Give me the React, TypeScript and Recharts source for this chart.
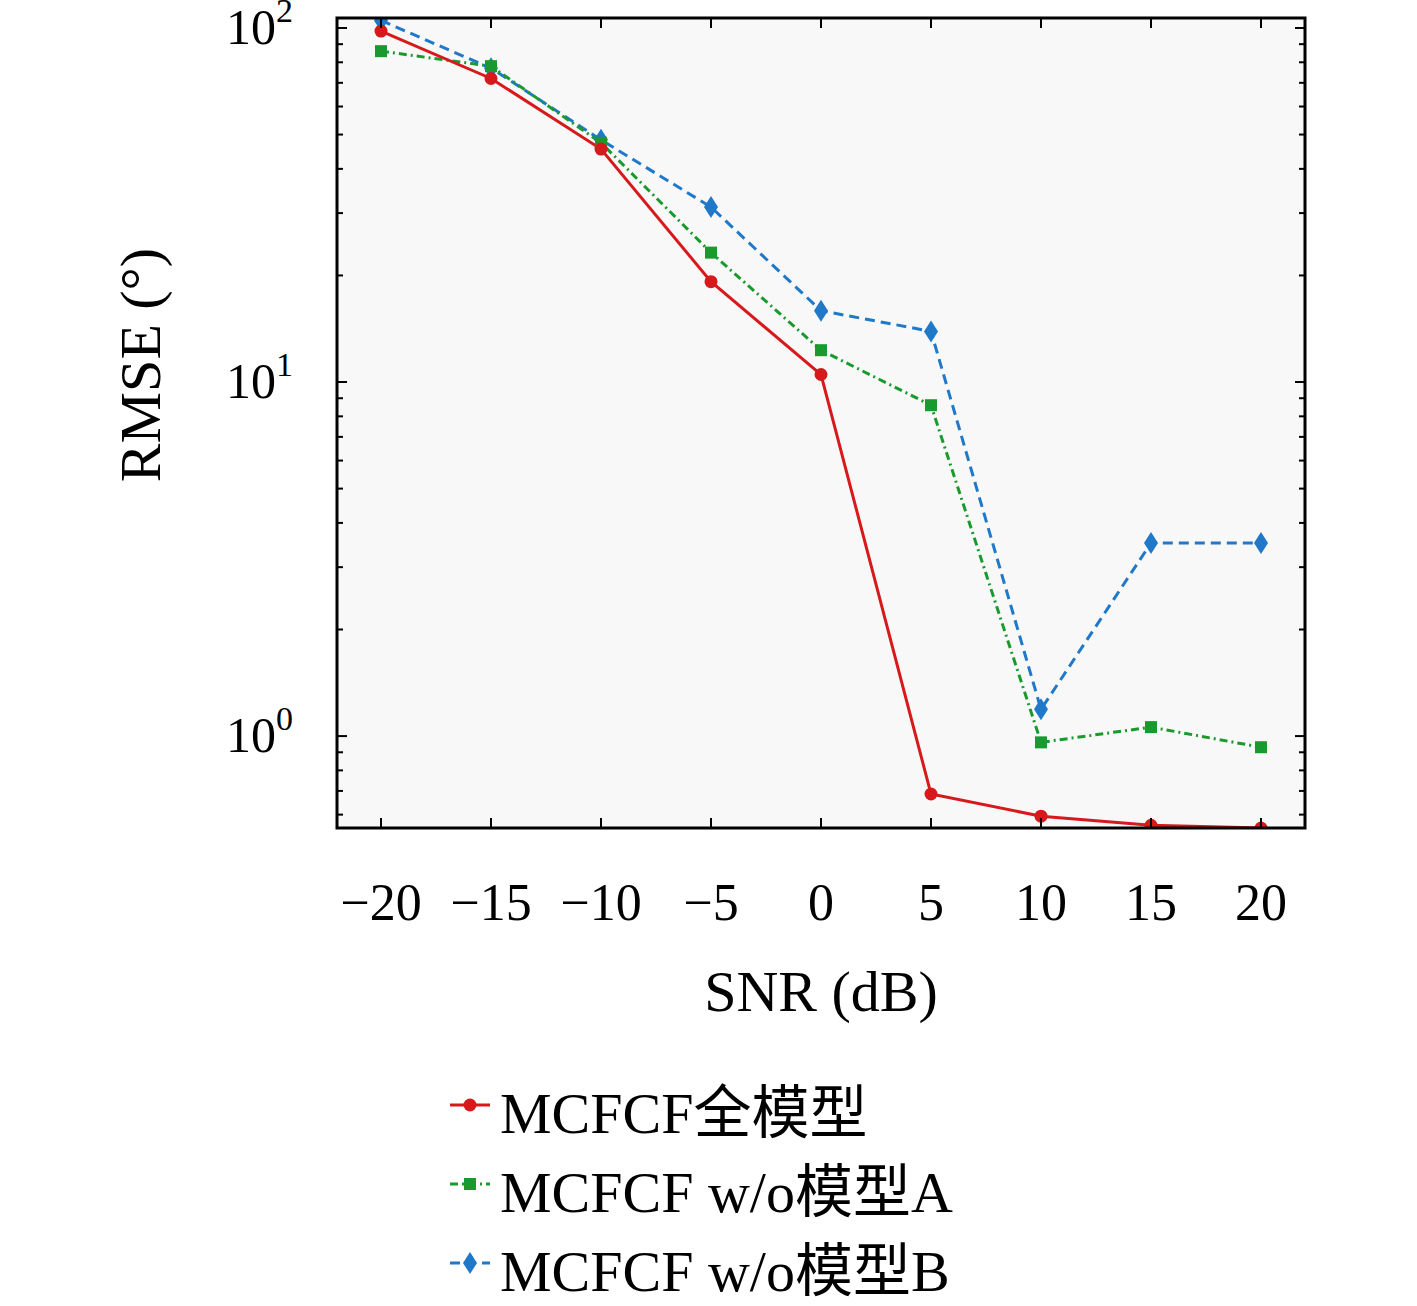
import React from "react";
import { LineChart, Line, XAxis, YAxis, CartesianGrid } from "recharts";

const snr = [-20, -15, -10, -5, 0, 5, 10, 15, 20];
const fullModel = [98, 72, 45.5, 19.2, 10.5, 0.686, 0.594, 0.56, 0.55];
const woA = [86, 78, 47.4, 23.2, 12.3, 8.6, 0.96, 1.06, 0.93];
const woB = [105, 77, 48.3, 31.2, 15.9, 13.9, 1.19, 3.51, 3.51];
const xTicks = [-20, -15, -10, -5, 0, 5, 10, 15, 20];
const yTicks = [0.6, 0.7, 0.8, 0.9, 1, 2, 3, 4, 5, 6, 7, 8, 9, 10, 20, 30, 40, 50, 60, 70, 80, 90, 100];
const yMajor = [1, 10, 100];

const data = snr.map((s, i) => ({ snr: s, full: fullModel[i], a: woA[i], b: woB[i] }));

const FONT = "'Liberation Serif', 'DejaVu Serif', serif";
const RED = "#d7191c";
const GREEN = "#1a9a2e";
const BLUE = "#1f78c8";

const YTick = (side: "left" | "right") => (p: any) => {
  const major = yMajor.includes(p.payload.value);
  const len = major ? 10 : 6;
  const dir = side === "left" ? 1 : -1;
  const x = side === "left" ? 337 : 1305;
  const exp = Math.round(Math.log10(p.payload.value));
  return (
    <g>
      <line x1={x} x2={x + dir * len} y1={p.y} y2={p.y} stroke="#000" strokeWidth={2} />
      {side === "left" && major && (
        <text x={x - 44} y={p.y + 16} textAnchor="end" fontFamily={FONT} fontSize={50} fill="#000">
          10<tspan dy={-22} fontSize={34}>{exp}</tspan>
        </text>
      )}
    </g>
  );
};

const XTick = (side: "top" | "bottom") => (p: any) => {
  const dir = side === "bottom" ? -1 : 1;
  const y = side === "bottom" ? 828 : 18;
  const v = p.payload.value;
  return (
    <g>
      <line x1={p.x} x2={p.x} y1={y} y2={y + dir * 10} stroke="#000" strokeWidth={2} />
      {side === "bottom" && (
        <text x={p.x} y={y + 92} textAnchor="middle" fontFamily={FONT} fontSize={52} fill="#000">
          {v < 0 ? "\u2212" + Math.abs(v) : v}
        </text>
      )}
    </g>
  );
};

const Circle = (p: any) => <circle key={p.index} cx={p.cx} cy={p.cy} r={6.5} fill={RED} />;
const Square = (p: any) => <rect key={p.index} x={p.cx - 6} y={p.cy - 6} width={12} height={12} fill={GREEN} />;
const Diamond = (p: any) => (
  <path key={p.index} d={`M${p.cx},${p.cy - 11} L${p.cx + 7},${p.cy} L${p.cx},${p.cy + 11} L${p.cx - 7},${p.cy} Z`} fill={BLUE} />
);

const legend = [
  { label: "MCFCF全模型", color: RED, dash: undefined, marker: "c" },
  { label: "MCFCF w/o模型A", color: GREEN, dash: "8 4 2 4", marker: "s" },
  { label: "MCFCF w/o模型B", color: BLUE, dash: "10 6", marker: "d" },
];

export default function App() {
  return (
    <div style={{ position: "absolute", left: 0, top: 0, width: 1417, height: 1306, background: "#fff", fontFamily: FONT }}>
      <LineChart width={1417} height={1306} data={data} margin={{ left: 336, right: 111, top: 17, bottom: 477 }}>
        <rect x={337} y={18} width={968} height={810} fill="#f8f8f8" />
        <CartesianGrid xAxisId="b" yAxisId="l" stroke="#dcdcdc" strokeDasharray="6 6" />
        <XAxis xAxisId="b" dataKey="snr" type="number" domain={[-22, 22]} ticks={xTicks} height={1} tickSize={0} tickMargin={0} tickLine={false} tick={XTick("bottom")} axisLine={false} interval={0} />
        <XAxis xAxisId="t" orientation="top" dataKey="snr" type="number" domain={[-22, 22]} ticks={xTicks} height={1} tickSize={0} tickMargin={0} tickLine={false} tick={XTick("top")} axisLine={false} interval={0} />
        <YAxis yAxisId="l" scale="log" type="number" domain={[0.55, 106.7]} ticks={yTicks} allowDataOverflow width={1} tickSize={0} tickMargin={0} tickLine={false} tick={YTick("left")} axisLine={false} interval={0} />
        <YAxis yAxisId="r" orientation="right" scale="log" type="number" domain={[0.55, 106.7]} ticks={yTicks} allowDataOverflow width={1} tickSize={0} tickMargin={0} tickLine={false} tick={YTick("right")} axisLine={false} interval={0} />
        <Line xAxisId="b" yAxisId="l" dataKey="b" stroke={BLUE} strokeWidth={3} strokeDasharray="10 6" dot={Diamond} isAnimationActive={false} />
        <Line xAxisId="b" yAxisId="l" dataKey="a" stroke={GREEN} strokeWidth={3} strokeDasharray="8 4 2 4" dot={Square} isAnimationActive={false} />
        <Line xAxisId="b" yAxisId="l" dataKey="full" stroke={RED} strokeWidth={3} dot={Circle} isAnimationActive={false} />
      </LineChart>
      <svg style={{ position: "absolute", left: 0, top: 0, pointerEvents: "none" }} width={1417} height={900}>
        <rect x={337} y={18} width={968} height={810} fill="none" stroke="#000" strokeWidth={3} />
      </svg>
      <div style={{ position: "absolute", left: 821, top: 958, transform: "translateX(-50%)", fontSize: 58, whiteSpace: "nowrap" }}>SNR (dB)</div>
      <div style={{ position: "absolute", left: 140, top: 365, transform: "translate(-50%,-50%) rotate(-90deg)", fontSize: 58, whiteSpace: "nowrap" }}>RMSE (°)</div>
      <svg style={{ position: "absolute", left: 440, top: 1070 }} width={60} height={230}>
        {legend.map((l, i) => {
          const y = 35 + i * 79;
          return (
            <g key={i}>
              <line x1={10} x2={50} y1={y} y2={y} stroke={l.color} strokeWidth={3} strokeDasharray={l.dash} />
              {l.marker === "c" && <circle cx={30} cy={y} r={6.5} fill={l.color} />}
              {l.marker === "s" && <rect x={24} y={y - 6} width={12} height={12} fill={l.color} />}
              {l.marker === "d" && <path d={`M30,${y - 11} L37,${y} L30,${y + 11} L23,${y} Z`} fill={l.color} />}
            </g>
          );
        })}
      </svg>
      {legend.map((l, i) => (
        <div key={i} style={{ position: "absolute", left: 500, top: 1066 + i * 79, fontSize: 58, whiteSpace: "nowrap", fontFamily: `${FONT}, 'Noto Sans CJK SC'` }}>
          {l.label}
        </div>
      ))}
    </div>
  );
}
